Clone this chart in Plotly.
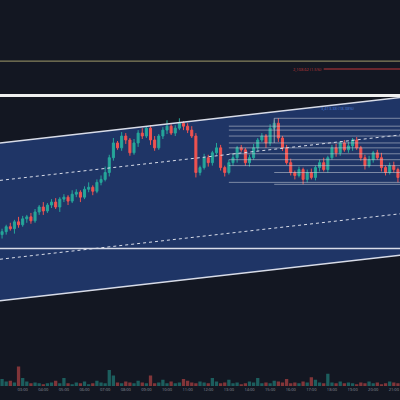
import plotly.graph_objects as go

# price units roughly follow the screenshot, candle index is time
closes = [165,170,168,175,172,178,180,176,185,190,186,192,195,190,198,200,
          196,203,205,200,208,210,206,215,218,225,240,255,250,262,258,
          245,255,265,262,270,258,250,262,268,272,265,270,275,272,268,262,
          225,230,240,235,245,250,230,225,235,240,250,248,
          235,240,250,258,262,255,270,275,260,250,235,225,222,228,
          218,225,220,230,235,228,240,250,245,255,248,252,258,250,
          240,232,238,245,240,230,225,232,228,220,215,208,205]
wick_hi = [3,2,4,2,5,3,2,4,3,2,5,2,3,4,2,3,2,4,3,2,3,5,2,3,4,6,3,5,2,4,3,
           2,4,3,5,2,3,4,2,3,6,2,3,5,2,3,4,3,2,4,3,2,5,3,2,3,4,2,3,
           2,3,4,2,3,2,4,3,5,2,3,4,2,3,2,3,4,2,3,5,2,3,4,2,3,4,2,3,
           2,3,4,2,3,5,2,3,4,2,3,2,3]
wick_lo = [4,3,2,5,3,2,4,3,2,3,4,2,3,2,5,3,4,2,3,5,2,3,4,2,3,2,4,3,2,3,4,
           3,2,4,3,2,5,3,2,3,4,2,3,2,4,3,2,5,3,2,4,3,2,3,4,2,3,5,2,
           3,4,2,3,2,5,3,2,4,3,2,3,4,2,5,3,2,3,4,2,3,2,4,3,2,3,5,2,
           3,4,2,3,2,4,3,2,3,5,2,4,3]
volumes = [8,5,6,4,22,9,5,3,4,3,2,3,4,6,3,9,3,2,4,3,5,2,3,6,4,3,
           18,12,4,3,5,4,3,6,4,3,12,3,4,7,3,5,3,4,8,6,4,3,5,4,
           3,9,5,3,4,7,3,4,2,3,5,4,9,3,4,3,6,5,4,8,3,4,3,5,4,
           10,7,4,3,14,4,3,5,3,4,3,2,4,3,5,3,4,2,3,5,4,3,8,6,3]
time_labels = ["02:00","03:00","04:00","05:00","06:00","07:00","08:00","09:00","10:00",
               "11:00","12:00","13:00","14:00","15:00","16:00","17:00","18:00",
               "19:00","20:00","21:00","22:00"]

n = len(closes)
x = list(range(n))
opens = [closes[0] - 3] + closes[:-1]
highs = [max(o, c) + w for o, c, w in zip(opens, closes, wick_hi)]
lows = [min(o, c) - w for o, c, w in zip(opens, closes, wick_lo)]
up = "#26a69a"
down = "#ef5350"
vol_colors = ["rgba(38,166,154,0.5)" if c >= o else "rgba(239,83,80,0.5)" for o, c in zip(opens, closes)]

fig = go.Figure()
fig.add_trace(go.Candlestick(x=x, open=opens, high=highs, low=lows, close=closes,
                             increasing=dict(line=dict(color=up, width=1), fillcolor=up),
                             decreasing=dict(line=dict(color=down, width=1), fillcolor=down),
                             whiskerwidth=0, yaxis="y"))
fig.add_trace(go.Bar(x=x, y=volumes, marker_color=vol_colors, marker_line_width=0, yaxis="y2"))

x0, x1 = -0.5, n + 0.5
shapes = []
# channel fill
shapes.append(dict(type="path", xref="x", yref="y",
                   path=f"M {x0},95 L {x1},143 L {x1},303 L {x0},255 Z",
                   fillcolor="#1f3566", line=dict(width=0), layer="below"))
for a, b, dash, w in [(95, 143, "solid", 1.5), (255, 303, "solid", 1.5),
                      (217, 265, "dot", 1), (137, 185, "dot", 1)]:
    shapes.append(dict(type="line", x0=x0, x1=x1, y0=a, y1=b,
                       line=dict(color="#d8dce8", width=w, dash=dash)))
for y, col, w in [(303, "#f0f0f0", 3), (148, "#d8dce8", 1.5), (338, "#a09c6a", 1)]:
    shapes.append(dict(type="line", x0=x0, x1=x1, y0=y, y1=y, line=dict(color=col, width=w)))
shapes.append(dict(type="line", x0=78, x1=x1, y0=330, y1=330, line=dict(color="#c0393b", width=1)))
shapes.append(dict(type="line", x0=66, x1=66, y0=255, y1=280, line=dict(color="#9aa0b0", width=1)))
for y in [280, 272, 268, 262, 255, 250, 244, 238, 232, 225, 215, 213]:
    shapes.append(dict(type="line", x0=66 if y in (280, 225, 213) else 55, x1=x1, y0=y, y1=y,
                       line=dict(color="rgba(200,205,215,0.55)", width=1)))
fig.update_layout(shapes=shapes)
fig.add_annotation(x=78, y=330, text="2,108.62 (1.5%)", showarrow=False, xanchor="right",
                   font=dict(size=4, color="#c0393b"))
fig.add_annotation(x=86, y=290, text="3,413.38 (18.38%)", showarrow=False, xanchor="right",
                   font=dict(size=4, color="#4a7bd8"))

fig.update_layout(
    width=400, height=400, margin=dict(l=0, r=0, t=0, b=14),
    paper_bgcolor="#131722", plot_bgcolor="#131722", showlegend=False,
    xaxis=dict(range=[x0, x1 - 4], anchor="y2", rangeslider=dict(visible=False), showgrid=False,
               zeroline=False, tickvals=[i * 5 for i in range(len(time_labels))], ticktext=time_labels,
               tickfont=dict(size=4, color="#8a8f9c")),
    yaxis=dict(domain=[0.17, 1], range=[75, 400], visible=False),
    yaxis2=dict(domain=[0.0, 0.16], range=[0, 70], visible=False),
    bargap=0.2,
)
fig.write_html("out.html", config={"displayModeBar": False},
               post_script="document.body.style.margin='0';document.body.style.background='#131722';")
